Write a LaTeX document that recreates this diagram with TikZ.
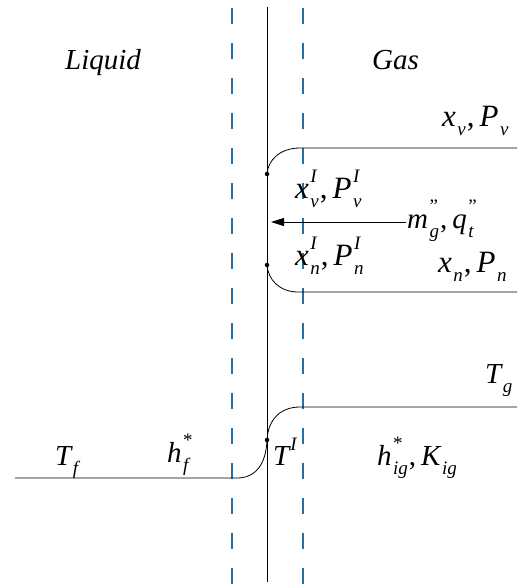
\documentclass[tikz,border=0pt]{standalone}
\usepackage{fontspec}
\setmainfont{Liberation Serif}
\usetikzlibrary{arrows.meta}
\definecolor{dashblue}{RGB}{40,110,160}
\newcommand\SSfont{\fontsize{19}{19}\selectfont}
\newcommand\ssc[3]{#1\hspace{1.5pt}\ooalign{\raisebox{16pt}{\SSfont #2}\cr\raisebox{-9pt}{\SSfont #3}}}
\newcommand\sbc[2]{#1\hspace{1.5pt}\raisebox{-9pt}{\SSfont #2}}
\newcommand\cma{\hspace{1pt}{\upshape,}\hspace{5pt}}
\begin{document}
\begin{tikzpicture}[x=1pt,y=-1pt,
  lbl/.style={inner sep=0pt,anchor=base west,font=\fontsize{31}{36}\selectfont\itshape},
  lbls/.style={inner sep=0pt,anchor=base west,font=\fontsize{29}{34}\selectfont\itshape},
  word/.style={inner sep=0pt,anchor=base west,font=\fontsize{29}{34}\selectfont\itshape},
  curve/.style={draw=black,line width=0.8pt},
  guide/.style={draw=dashblue,line width=1.3pt,dash pattern=on 16pt off 19pt},
  wall/.style={draw=black,line width=1pt},
  dotm/.style={circle,fill=black,inner sep=0pt,minimum size=4.5pt}]
\useasboundingbox (0,0) rectangle (517,586);
% guides
\coordinate (g1t) at (232,8); \coordinate (g1b) at (232,586);
\coordinate (g2t) at (303,8);   \coordinate (g2b) at (303,586);
\coordinate (wt) at (267.5,7);  \coordinate (wb) at (267.5,582);
\draw[guide] (g1t) -- (g1b);
\draw[guide] (g2t) -- (g2b);
\draw[wall] (wt) -- (wb);
% coordinates
\coordinate (vR) at (517,148); \coordinate (vL) at (300,148);
\node[dotm] (d1) at (267,174) {};
\node[dotm] (d2) at (267,265) {};
\coordinate (nL) at (298,292); \coordinate (nR) at (517,292);
\coordinate (tR) at (517,407); \coordinate (tL) at (300,407);
\node[dotm] (d3) at (267,440) {};
\coordinate (fR) at (237,478); \coordinate (fL) at (15,478);
% profiles
\draw[curve] (vR) -- (vL) .. controls (280,148) and (268,160) .. (d1.center);
\draw[curve] (d2.center) .. controls (268,280) and (280,292) .. (nL) -- (nR);
\draw[curve] (tR) -- (tL) .. controls (280,407) and (268,420) .. (d3.center);
\draw[curve] (d3.center) .. controls (266,465) and (255,478) .. (fR) -- (fL);
% labels
\node[word] (liq) at (65,70) {Liquid};
\node[word] (gas) at (372,70) {Gas};
\node[lbl] (xv) at (442,126) {\sbc{x}{v}\cma\sbc{P}{v}};
\node[lbl] (xvI) at (295,198) {\ssc{x}{I}{v}\cma\ssc{P}{I}{v}};
\node[lbls] (mq) at (407,228) {\ssc{m}{\upshape"}{g}\cma\ssc{q}{\upshape"}{t}};
\node[lbl] (xnI) at (295,265) {\ssc{x}{I}{n}\cma\ssc{P}{I}{n}};
\node[lbl] (xn) at (438,272) {\sbc{x}{n}\cma\sbc{P}{n}};
\node[lbls] (Tg) at (485,383) {\sbc{T}{g}};
\node[lbls] (TI) at (273,465) {T\hspace{1pt}\raisebox{15pt}{\SSfont I}};
\node[lbls] (hig) at (377,465) {\ssc{h}{\upshape*}{ig}\cma\sbc{K}{ig}};
\node[lbls] (Tf) at (55,465) {\sbc{T}{f}};
\node[lbls] (hf) at (167,462) {\ssc{h}{\upshape*}{f}};
% flux arrow
\coordinate (aS) at (406,222);
\coordinate (aE) at (271,222);
\draw[line width=0.9pt,-{Triangle[length=13pt,width=8pt]}] (aS) -- (aE);
\end{tikzpicture}
\end{document}
